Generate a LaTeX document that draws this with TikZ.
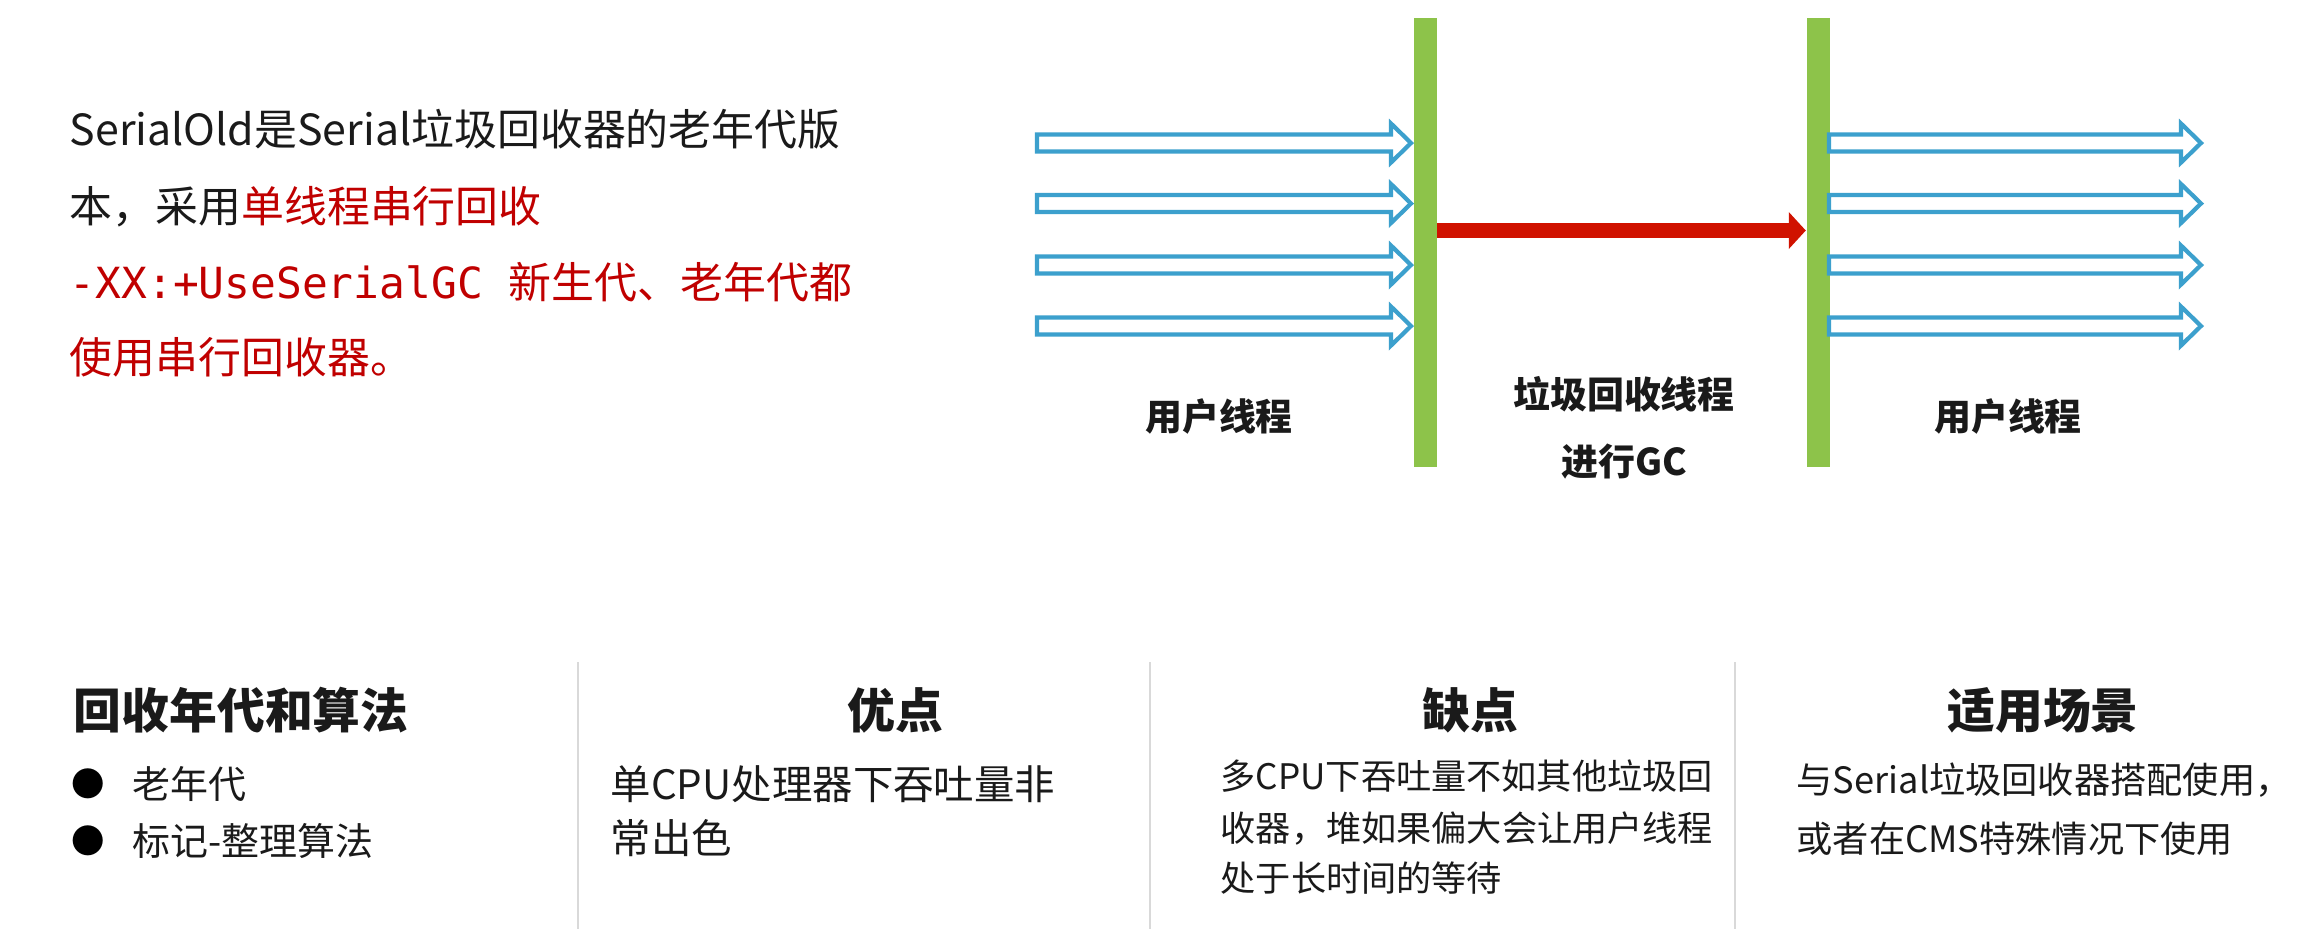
\documentclass[tikz,border=0pt]{standalone}
\usepackage{fontspec}
\setmainfont{Noto Sans CJK SC}
\newfontfamily\codefont{DejaVu Sans Mono}
\usepackage{xcolor}
\usetikzlibrary{arrows.meta}
\usetikzlibrary{positioning}

\definecolor{barGreen}{HTML}{8DC34A}
\definecolor{threadBlue}{HTML}{3CA0CD}
\definecolor{gcRed}{HTML}{D01200}
\definecolor{noteRed}{HTML}{C00000}
\definecolor{sepGray}{HTML}{D9D9D9}
\definecolor{ink}{HTML}{1A1A1A}

\tikzset{
  bar/.style={fill=barGreen,draw=none,minimum width=0.23cm,minimum height=4.49cm,inner sep=0pt},
  thread/.style={draw=threadBlue,line width=0.042cm,fill=white,line join=miter},
  gcarrow/.style={draw=gcRed,line width=0.155cm,-{Triangle[length=0.17cm,width=0.36cm]}},
  tag/.style={font=\fontsize{10.5}{13}\selectfont\bfseries,text=ink,inner sep=0pt},
  intro/.style={font=\fontsize{12.2}{15}\selectfont,text=ink,anchor=base west,inner sep=0pt},
  title/.style={font=\fontsize{13.6}{16}\selectfont\bfseries,text=ink,anchor=base,inner sep=0pt},
  body/.style={font=\fontsize{10.8}{13}\selectfont,text=ink,anchor=base west,inner sep=0pt},
  dot/.style={font=\fontsize{9.5}{11}\selectfont,text=black,inner sep=0pt},
  sep/.style={draw=sepGray,line width=0.02cm}
}

\begin{document}
\begin{tikzpicture}[x=0.01cm,y=-0.01cm]
\useasboundingbox[fill=white] (0,0) rectangle (2305,929);

% text on the left
\node[intro] (line1) at (69,145) {SerialOld是Serial垃圾回收器的老年代版};
\node[intro] (line2) at (69,222) {本，采用\textcolor{noteRed}{单线程串行回收}};
\node[intro,text=noteRed] (line3) at (69,298) {{\codefont -XX:+UseSerialGC }新生代、老年代都};
\node[intro,text=noteRed] (line4) at (69,373) {使用串行回收器。};

% the two safepoints
\node[bar] (gcStart) at (1425,242.5) {};
\node[bar] (gcEnd) at (1818,242.5) {};

% user threads
\foreach \xs/\xb/\xt in {1037/1391/1411,1829/2181/2201}{
\foreach \y in {143,203.5,265,326}{
\draw[thread] (\xs,\y-8.5) -- (\xb,\y-8.5) -- (\xb,\y-19.5) -- (\xt,\y) -- (\xb,\y+19.5) -- (\xb,\y+8.5) -- (\xs,\y+8.5) -- cycle;
}}

% gc thread
\coordinate (gcLevel) at (0,230.5);
\draw[gcarrow] (gcStart.east |- gcLevel) -- (gcEnd.west |- gcLevel);

\node[tag] (userA) at (1219,417) {用户线程};
\node[tag] (gcTag) at (1624,394) {垃圾回收线程};
\node[tag] (gcTag2) at (1624,462) {进行GC};
\node[tag] (userB) at (2008,417) {用户线程};

% table at the bottom
\draw[sep] (578,662) -- (578,929);
\draw[sep] (1150,662) -- (1150,929);
\draw[sep] (1735,662) -- (1735,929);

\node[title,anchor=base west] (genHead) at (73,728) {回收年代和算法};
\node[title] (proHead) at (895,728) {优点};
\node[title] (conHead) at (1470,728) {缺点};
\node[title] (useHead) at (2043,728) {适用场景};

\node[dot] (dot1) at (88,784) {●};
\node[body] (gen1) at (132,798) {老年代};
\node[dot] (dot2) at (88,841) {●};
\node[body] (gen2) at (132,855) {标记-整理算法};

\node[body,font=\fontsize{11.5}{13}\selectfont] (pro1) at (610,799) {单CPU处理器下吞吐量非};
\node[body,font=\fontsize{11.5}{13}\selectfont] (pro2) at (610,853) {常出色};

\node[body,font=\fontsize{10}{12}\selectfont] (con1) at (1220,789) {多CPU下吞吐量不如其他垃圾回};
\node[body,font=\fontsize{10}{12}\selectfont] (con2) at (1220,841) {收器，堆如果偏大会让用户线程};
\node[body,font=\fontsize{10}{12}\selectfont] (con3) at (1220,891) {处于长时间的等待};

\node[body,font=\fontsize{10.3}{12}\selectfont] (use1) at (1796,793) {与Serial垃圾回收器搭配使用，};
\node[body,font=\fontsize{10.3}{12}\selectfont] (use2) at (1796,852) {或者在CMS特殊情况下使用};
\end{tikzpicture}
\end{document}
